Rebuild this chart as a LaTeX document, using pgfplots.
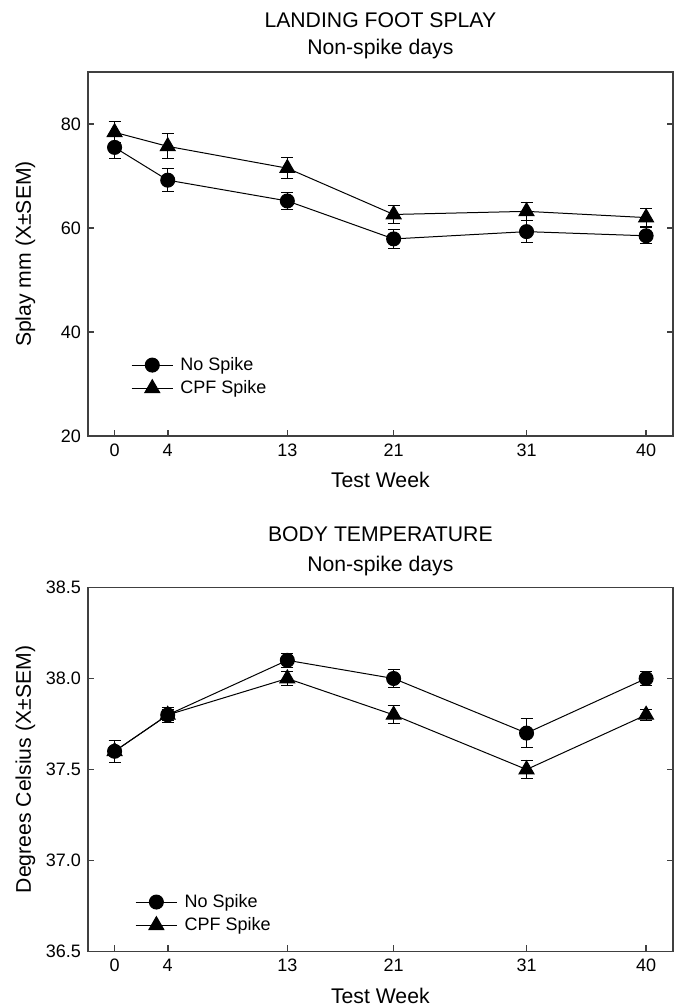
\documentclass[border=0pt]{standalone}
\usepackage{fontspec}
\setmainfont{Liberation Sans}
\usepackage{pgfplots}
\pgfplotsset{compat=1.18}
\begin{document}
\begin{tikzpicture}
\path[use as bounding box] (0,0) rectangle (339pt,503pt);
\pgfplotsset{
  myaxis/.style={
    scale only axis, width=292.35pt, height=182pt,
    xmin=-2, xmax=42,
    xtick={0,4,13,21,31,40},
    xtick pos=lower, ytick pos=both, yticklabel pos=left, tick align=inside,
    major tick length=3pt, minor tick num=0,
    axis line style={black!75, line width=0.8pt},
    every tick/.style={black!75, line width=0.8pt},
    tick label style={font=\fontsize{9}{10}\selectfont},
    xticklabel style={text height=6.6pt, text depth=0pt},
    /pgf/number format/assume math mode=true,
    label style={font=\fontsize{10.6}{12}\selectfont},
    xlabel={Test Week},
    xlabel style={at={(axis description cs:0.5,-0.142)}, anchor=base},
    ylabel style={at={(axis description cs:-0.0975,0.5)}, anchor=base},
    clip=false,
    legend cell align=left,
    legend image code/.code={\draw[mark repeat=2, mark phase=2, ##1] plot coordinates {(0pt,0pt)(10.35pt,0pt)(20.7pt,0pt)};},
  },
  nospike/.style={black, line width=0.5pt, mark=*, mark size=3.5pt, mark options={solid, fill=black},
    error bars/.cd, y dir=both, y explicit, error mark options={rotate=90, mark size=3pt, black, line width=0.5pt}, error bar style={line width=0.5pt}},
  cpf/.style={black, line width=0.5pt, mark=triangle*, mark size=4.3pt, mark options={solid, fill=black},
    error bars/.cd, y dir=both, y explicit, error mark options={rotate=90, mark size=3pt, black, line width=0.5pt}, error bar style={line width=0.5pt}},
}
\begin{axis}[myaxis, at={(44pt,285pt)}, anchor=south west,
  ymin=20, ymax=90, ytick={20,40,60,80},
  ylabel={Splay mm (X±SEM)},
  legend style={draw=none, fill=none, font=\fontsize{9}{10}\selectfont, at={(axis description cs:0.073,0.2289)}, anchor=north west, inner sep=0pt, row sep=-0.4pt, nodes={inner xsep=3.5pt}},
]
\addplot+[nospike] coordinates {(0,75.5) +- (0,2.2) (4,69.2) +- (0,2.2) (13,65.2) +- (0,1.7) (21,57.9) +- (0,1.8) (31,59.3) +- (0,2.1) (40,58.5) +- (0,1.5)};
\addlegendentry{No Spike}
\addplot+[cpf] coordinates {(0,78.4) +- (0,2.0) (4,75.7) +- (0,2.4) (13,71.5) +- (0,2.0) (21,62.6) +- (0,1.8) (31,63.2) +- (0,1.7) (40,62.0) +- (0,1.7)};
\addlegendentry{CPF Spike}
\node[anchor=base, font=\fontsize{10.6}{12}\selectfont] at (axis description cs:0.5,1.1228) {LANDING FOOT SPLAY};
\node[anchor=base, font=\fontsize{10.6}{12}\selectfont] at (axis description cs:0.5,1.0467) {Non-spike days};
\end{axis}
\begin{axis}[myaxis, at={(44pt,27.25pt)}, anchor=south west,
  ymin=36.5, ymax=38.5, ytick={36.5,37.0,37.5,38.0,38.5},
  yticklabel style={/pgf/number format/.cd, fixed, fixed zerofill, precision=1},
  ylabel={Degrees Celsius (X±SEM)},
  legend style={draw=none, fill=none, font=\fontsize{9}{10}\selectfont, at={(axis description cs:0.080,0.170)}, anchor=north west, inner sep=0pt, row sep=-0.4pt, nodes={inner xsep=3.5pt}},
]
\addplot+[nospike] coordinates {(0,37.60) +- (0,0.06) (4,37.80) +- (0,0.04) (13,38.10) +- (0,0.04) (21,38.00) +- (0,0.05) (31,37.70) +- (0,0.08) (40,38.00) +- (0,0.04)};
\addlegendentry{No Spike}
\addplot+[cpf] coordinates {(0,37.60) +- (0,0.06) (4,37.80) +- (0,0.03) (13,38.00) +- (0,0.04) (21,37.80) +- (0,0.05) (31,37.50) +- (0,0.05) (40,37.80) +- (0,0.03)};
\addlegendentry{CPF Spike}
\node[anchor=base, font=\fontsize{10.6}{12}\selectfont] at (axis description cs:0.5,1.1264) {BODY TEMPERATURE};
\node[anchor=base, font=\fontsize{10.6}{12}\selectfont] at (axis description cs:0.5,1.044) {Non-spike days};
\end{axis}
\end{tikzpicture}
\end{document}
